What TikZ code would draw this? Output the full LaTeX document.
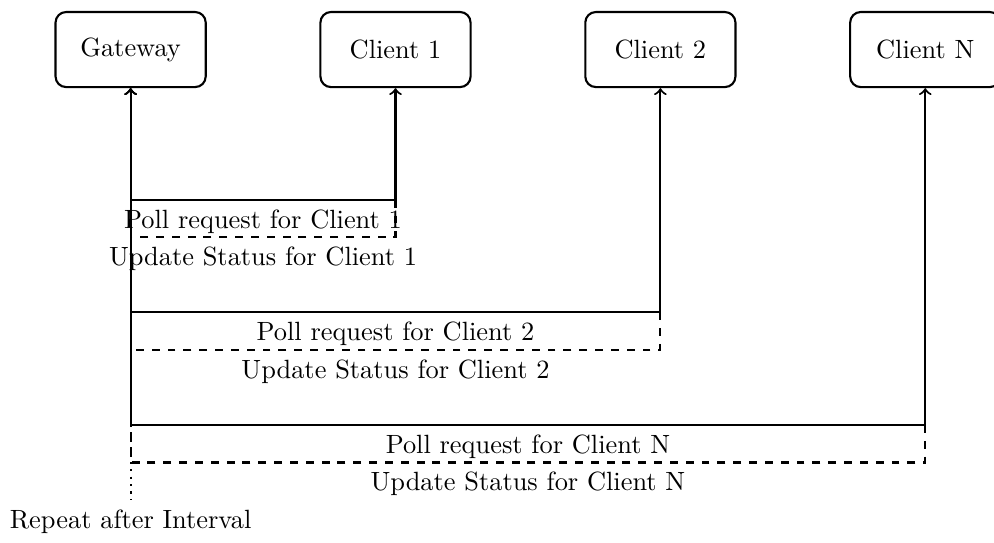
\documentclass[tikz,border=0pt]{standalone}
\usetikzlibrary{positioning}
\tikzset{
	entity/.style={draw, rounded corners, minimum width=2cm, minimum height=1cm},
	status/.style={dashed}
}
\begin{document}
\begin{tikzpicture}[thick]
			\useasboundingbox (-1.74,-6.56) rectangle (11.5,0.66);
			\node[entity] (gateway) at (0,0) {Gateway};
			\node[entity, right=1.5cm of gateway] (client1) {Client 1};
			\node[entity, right=1.5cm of client1] (client2) {Client 2};
			\node[entity, right=1.5cm of client2] (clientN) {Client N};
			\foreach \c/\n/\y in {client1/1/-2, client2/2/-3.5, clientN/N/-5} {
				\draw[<->] (gateway.south) -- (gateway.south |- 0,\y) -| (\c.south)
					node[pos=0.25, below] {Poll request for Client \n};
				\draw[status] (\c.south |- 0,\y) -- (\c.south |- 0,\y-0.5) -- (gateway.south |- 0,\y-0.5)
					node[midway, below] {Update Status for Client \n} -- (gateway.south |- 0,\y);
			}
			\coordinate (loopend) at (0,-6);
			\draw[dotted] (gateway.south |- 0,-5) -- (loopend);
			\node[below] (repeat) at (loopend) {Repeat after Interval};
		\end{tikzpicture}
\end{document}
